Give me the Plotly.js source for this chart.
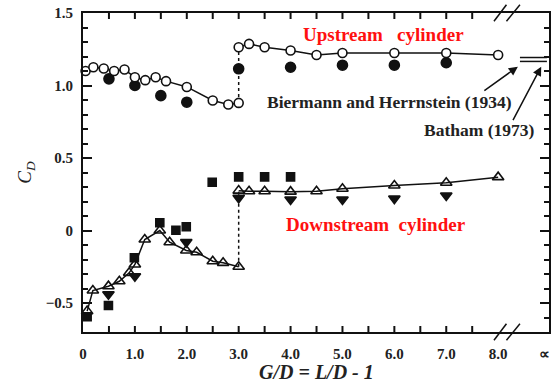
<!DOCTYPE html>
<html>
<head>
<meta charset="utf-8">
<script src="https://cdn.plot.ly/plotly-3.0.1.min.js"></script>
<style>html,body{margin:0;padding:0;background:#fff;}#chart{width:554px;height:390px;}</style>
</head>
<body>
<div id="chart"></div>
<script>
// ---- Upstream cylinder: open circles (line), before and after the jump at G/D = 3
var upLowerX = [0.05, 0.2, 0.4, 0.6, 0.8, 1.0, 1.2, 1.4, 1.6, 2.0, 2.5, 2.8, 3.0];
var upLowerY = [1.10, 1.126, 1.117, 1.10, 1.11, 1.057, 1.037, 1.057, 1.03, 0.99, 0.897, 0.869, 0.88];
var upUpperX = [3.0, 3.2, 3.5, 4.0, 4.5, 5.0, 6.0, 7.0, 8.0];
var upUpperY = [1.264, 1.287, 1.264, 1.241, 1.21, 1.224, 1.224, 1.224, 1.21];
// Upstream cylinder: filled circles
var upFillX = [0.5, 1.0, 1.5, 2.0, 3.0, 4.0, 5.0, 6.0, 7.0];
var upFillY = [1.046, 1.0, 0.93, 0.885, 1.115, 1.126, 1.14, 1.14, 1.157];

// ---- Downstream cylinder: open triangles (line)
var dnLowerX = [0.08, 0.19, 0.49, 0.70, 0.89, 1.0, 1.19, 1.48, 1.67, 1.99, 2.19, 2.5, 2.7, 3.0];
var dnLowerY = [-0.556, -0.414, -0.384, -0.35, -0.292, -0.234, -0.062, 0.0, -0.081, -0.138, -0.15, -0.212, -0.223, -0.25];
var dnUpperX = [3.0, 3.2, 3.5, 4.0, 4.5, 5.0, 6.0, 7.0, 8.0];
var dnUpperY = [0.275, 0.271, 0.271, 0.268, 0.271, 0.288, 0.31, 0.329, 0.368];
// Downstream: filled squares
var dnSqX = [0.08, 0.49, 0.99, 1.48, 1.79, 1.99, 2.49, 3.0, 3.5, 4.0];
var dnSqY = [-0.595, -0.517, -0.188, 0.053, 0.002, 0.026, 0.333, 0.37, 0.37, 0.37];
// Downstream: filled down-triangles
var dnTriX = [0.49, 1.0, 1.99, 3.0, 4.0, 5.0, 6.0, 7.0];
var dnTriY = [-0.44, -0.315, -0.08, 0.225, 0.214, 0.214, 0.22, 0.241];

// ---- Reference values for isolated cylinder (G/D -> infinity)
var refX = [8.42, 8.94];
var biermannY = [1.193, 1.193];
var bathamY = [1.166, 1.166];

// ---- Axis ticks
var xTickVals = [0, 1, 2, 3, 4, 5, 6, 7, 8, 8.9];
var xTickText = ['0', '1.0', '2.0', '3.0', '4.0', '5.0', '6.0', '7.0', '8.0', '\u221d'];
var xMarkVals = [0.5, 1, 1.5, 2, 2.5, 3, 3.5, 4, 4.5, 5, 5.5, 6, 6.5, 7, 7.5];
var yTickVals = [-0.5, 0, 0.5, 1.0, 1.5];
var yTickText = ['\u22120.5', '0', '0.5', '1.0', '1.5'];
var yMinorStep = 0.1;

var K = '#111111';
var serif = "'Liberation Serif', 'Times New Roman', Times, serif";
var X_RANGE = [0, 8.98];
var Y_RANGE = [-0.70, 1.5];

function lineTrace(x, y, dash) {
  return {x: x, y: y, type: 'scatter', mode: 'lines', hoverinfo: 'skip',
          line: {color: K, width: 1.5, dash: dash || 'solid'}, cliponaxis: false, showlegend: false};
}
function markTrace(x, y, symbol, size, fill) {
  return {x: x, y: y, type: 'scatter', mode: 'markers', showlegend: false, cliponaxis: false,
          marker: {symbol: symbol, size: size, color: fill, line: {color: K, width: 1.6}}};
}

var traces = [
  lineTrace(upLowerX, upLowerY),
  lineTrace([upLowerX[upLowerX.length-1], upUpperX[0]], [upLowerY[upLowerY.length-1], upUpperY[0]], 'dot'),
  lineTrace(upUpperX, upUpperY),
  lineTrace(dnLowerX, dnLowerY),
  lineTrace([dnLowerX[dnLowerX.length-1], dnUpperX[0]], [dnLowerY[dnLowerY.length-1], dnUpperY[0]], 'dot'),
  lineTrace(dnUpperX, dnUpperY),
  markTrace(dnSqX, dnSqY, 'square', 8, K),
  markTrace(dnTriX, dnTriY, 'triangle-down', 10, K),
  markTrace(dnLowerX, dnLowerY, 'triangle-up-open', 10, K),
  markTrace(dnUpperX, dnUpperY, 'triangle-up-open', 10, K),
  markTrace(upFillX, upFillY, 'circle', 10, K),
  markTrace(upLowerX, upLowerY, 'circle', 9, '#ffffff'),
  markTrace(upUpperX, upUpperY, 'circle', 9, '#ffffff'),
  lineTrace(refX, biermannY),
  lineTrace(refX, bathamY)
];

var tickFont = {family: serif, size: 15, color: '#222', weight: 'bold'};
var textFont = {family: serif, size: 17.5, color: '#222', weight: 'bold'};
var redFont = {family: serif, size: 19, color: '#ff1010', weight: 'bold'};

// x tick marks (inside, bottom and top) every 0.5 up to the axis break
var xTickLen = 6 / 319;
var shapes = [];
xMarkVals.forEach(function (v) {
  shapes.push({type: 'line', xref: 'x', yref: 'paper', x0: v, x1: v, y0: 0, y1: xTickLen, line: {color: K, width: 2}});
  shapes.push({type: 'line', xref: 'x', yref: 'paper', x0: v, x1: v, y0: 1, y1: 1 - xTickLen, line: {color: K, width: 2}});
});
// axis break marks
[[7.92, 8.16], [8.16, 8.42]].forEach(function (b) {
  [0, 1].forEach(function (py) {
    shapes.push({type: 'line', xref: 'x', yref: 'paper', x0: b[0], x1: b[1],
      y0: py - 0.026, y1: py + 0.026, line: {color: K, width: 1.5}});
  });
});

var layout = {
  width: 554, height: 390,
  margin: {l: 83, r: 5, t: 13, b: 58},
  paper_bgcolor: '#ffffff', plot_bgcolor: '#ffffff',
  showlegend: false,
  xaxis: {
    range: X_RANGE, showgrid: false, zeroline: false,
    showline: true, linecolor: K, linewidth: 2, mirror: true,
    tickmode: 'array', tickvals: xTickVals, ticktext: xTickText,
    ticks: '', tickfont: tickFont, ticklabelstandoff: 7
  },
  yaxis: {
    range: Y_RANGE, showgrid: false, zeroline: false,
    showline: true, linecolor: K, linewidth: 2, mirror: 'ticks',
    tickmode: 'array', tickvals: yTickVals, ticktext: yTickText,
    ticks: 'inside', ticklen: 9, tickwidth: 2, tickcolor: K,
    minor: {tickmode: 'linear', tick0: 0, dtick: yMinorStep, ticks: 'inside', ticklen: 5, tickwidth: 2, tickcolor: K, showgrid: false},
    tickfont: tickFont, ticklabelstandoff: 5,
    title: {text: '<i>C</i><sub><i>D</i></sub>', font: {family: serif, size: 19, color: '#222', style: 'italic'}, standoff: 9}
  },
  shapes: shapes,
  annotations: [
    {x: 0.5, y: -0.125, xref: 'paper', yref: 'paper', yanchor: 'middle', showarrow: false,
     text: '<i>G</i>/<i>D</i> = <i>L</i>/<i>D</i> - 1', font: {family: serif, size: 20, color: '#222', weight: 'bold', style: 'italic'}},
    {x: 5.8, y: 1.35, xref: 'x', yref: 'y', text: 'Upstream&nbsp;&nbsp; cylinder', showarrow: false, font: redFont},
    {x: 5.65, y: 0.04, xref: 'x', yref: 'y', text: 'Downstream&nbsp; cylinder', showarrow: false, font: redFont},
    {x: 5.9, y: 0.885, xref: 'x', yref: 'y', text: 'Biermann and Herrnstein (1934)', showarrow: false, font: textFont},
    {x: 7.65, y: 0.69, xref: 'x', yref: 'y', text: 'Batham (1973)', showarrow: false, font: textFont},
    {x: 8.38, y: 1.13, xref: 'x', yref: 'y', text: '', showarrow: true, arrowhead: 2, arrowsize: 1.2, arrowwidth: 1.5, arrowcolor: K, ax: -35, ay: 25},
    {x: 8.83, y: 1.13, xref: 'x', yref: 'y', text: '', showarrow: true, arrowhead: 2, arrowsize: 1.2, arrowwidth: 1.5, arrowcolor: K, ax: -29, ay: 55}
  ]
};

Plotly.newPlot('chart', traces, layout, {displayModeBar: false, staticPlot: true});
</script>
</body>
</html>
